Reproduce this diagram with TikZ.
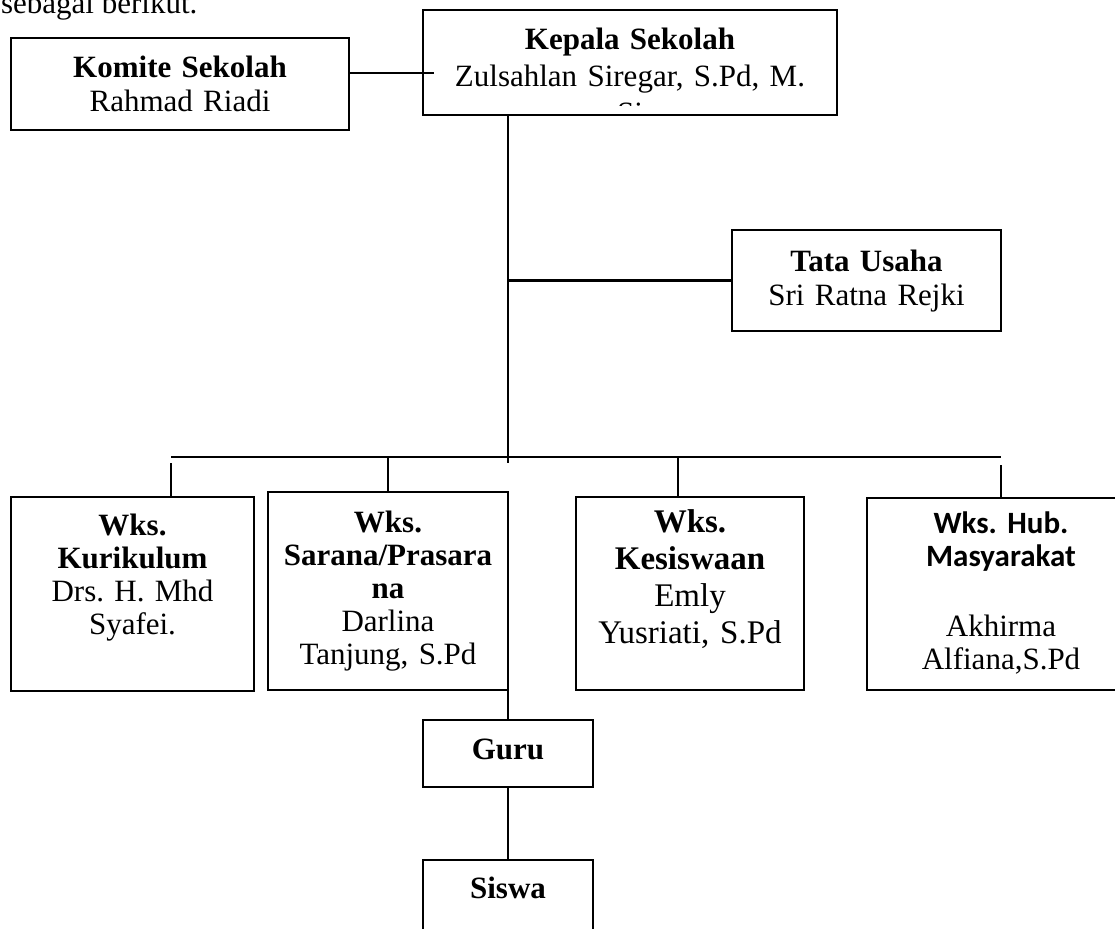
\documentclass[tikz,border=0pt]{standalone}
\usepackage{fontspec}
\setmainfont{Liberation Serif}
\newfontfamily\calibri{Carlito}
\frenchspacing

\begin{document}
\begin{tikzpicture}[x=1pt, y=-1pt, line width=2.2pt,
    every node/.style={font=\fontsize{31}{34}\selectfont},
    box/.style={draw, line width=2.2pt, anchor=north west, inner sep=0pt, outer sep=0pt, align=center},
    wks/.style={box, font=\fontsize{31}{33}\selectfont}]
            \useasboundingbox (0,0) rectangle (1115,928);

            % Define nodes
            \node[anchor=base west, inner sep=0pt] (intro) at (0,14) {sebagai berikut.};
            \node[box, text width=338pt, text height=40pt, text depth=52pt] (komite) at (11,38) {\textbf{Komite Sekolah}\\Rahmad Riadi};
            \node[box, text width=414pt, text height=40pt, text depth=65pt, font=\fontsize{31}{37}\selectfont] (kepala) at (423,10) {\textbf{Kepala Sekolah}\\Zulsahlan Siregar, S.Pd, M.};
            \begin{scope}
                \clip (423,10) rectangle (837,106);
                \node[anchor=base, inner sep=0pt] (kepalasi) at (630,124) {Si};
            \end{scope}
            \node[box, text width=269pt, text height=41pt, text depth=60pt] (tata) at (732,230) {\textbf{Tata Usaha}\\Sri Ratna Rejki};

            \node[wks, text width=243pt, text height=38pt, text depth=156pt] (kurikulum) at (11,497) {\textbf{Wks.}\\\textbf{Kurikulum}\\Drs. H. Mhd\\Syafei.};
            \node[wks, text width=240pt, text height=40pt, text depth=158pt] (sarana) at (268,492) {\textbf{Wks.}\\\textbf{Sarana/Prasara}\\\textbf{na}\\Darlina\\Tanjung, S.Pd};
            \node[wks, text width=228pt, text height=35pt, text depth=158pt, font=\fontsize{33}{37}\selectfont] (kesiswaan) at (576,497) {\textbf{Wks.}\\\textbf{Kesiswaan}\\Emly\\Yusriati, S.Pd};
            \node[wks, text width=268pt, text height=35pt, text depth=157pt] (masyarakat) at (867,498) {{\calibri\bfseries\fontsize{31}{33}\selectfont Wks. Hub.}\\{\calibri\bfseries\fontsize{31}{33}\selectfont Masyarakat}\\[37pt]Akhirma\\Alfiana,S.Pd};

            \node[box, text width=170pt, text height=39pt, text depth=28pt] (guru) at (423,720) {\textbf{Guru}};
            \node[box, text width=170pt, text height=38pt, text depth=42pt] (siswa) at (423,860) {\textbf{Siswa}};

            % Junctions
            \coordinate (kk) at (434,73);
            \coordinate (trunk) at (508,463);
            \coordinate (busl) at (171,457);
            \coordinate (busr) at (1001,457);
            \coordinate (k1) at (171,463);
            \coordinate (k3) at (678,457);
            \coordinate (k4) at (1001,465);

            % Draw edges
            \draw (komite.east |- kk) -- (kk);
            \draw (kepala.south -| trunk) -- (trunk);
            \draw (tata.west) -- (tata.west -| trunk);
            \draw (busl) -- (busr);
            \draw (k1) -- (kurikulum.north -| k1);
            \draw (sarana.north |- busl) -- (sarana.north);
            \draw (k3) -- (kesiswaan.north -| k3);
            \draw (k4) -- (masyarakat.north -| k4);
            \draw (sarana.south east) -- (guru.north);
            \draw (guru.south) -- (siswa.north);

        \end{tikzpicture}
\end{document}
